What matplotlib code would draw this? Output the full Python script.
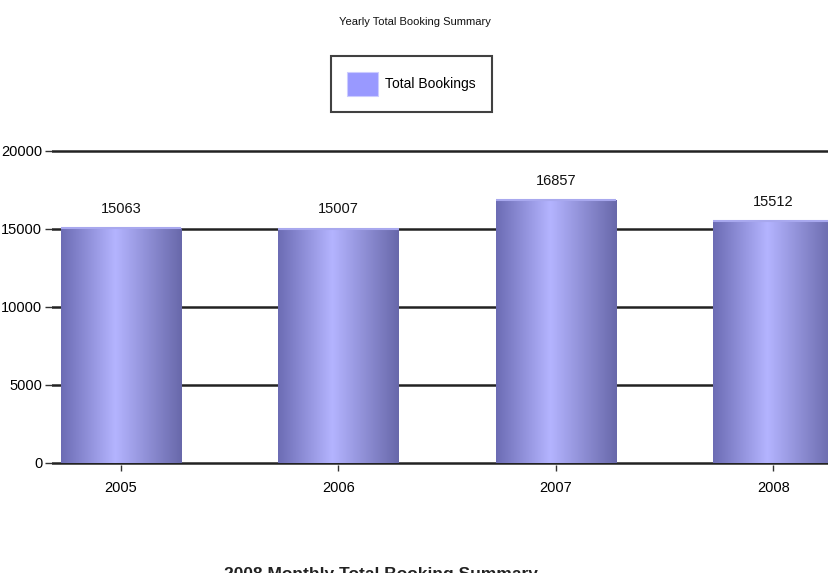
import matplotlib
matplotlib.use("Agg")
import matplotlib.pyplot as plt
import numpy as np
from matplotlib.patches import Patch
from matplotlib.colors import LinearSegmentedColormap

years = ["2005", "2006", "2007", "2008"]
bookings = [15063, 15007, 16857, 15512]
yticks = [0, 5000, 10000, 15000, 20000]
title = "Yearly Total Booking Summary"
series_name = "Total Bookings"
next_title = "2008 Monthly Total Booking Summary"

FONT = ["Liberation Sans Narrow", "Liberation Sans", "DejaVu Sans"]
plt.rcParams["font.family"] = FONT

W, H = 829, 573
fig = plt.figure(figsize=(W / 100, H / 100), dpi=100)

# axes geometry in pixels
x0_px, zero_px, top_px = 52, 463, 151
ppu = (zero_px - top_px) / 20000.0
ylo, yhi = -150, 20150
bot_px = zero_px + (0 - ylo) * ppu
tp_px = top_px - (yhi - 20000) * ppu
cat_px = 217.5
first_px = 121
xlo = -(first_px - x0_px) / cat_px
xhi = 3 - xlo
right_px = first_px + (xhi) * cat_px
ax = fig.add_axes([x0_px / W, 1 - bot_px / H, (right_px - x0_px) / W, (bot_px - tp_px) / H])
ax.set_xlim(xlo, xhi)
ax.set_ylim(ylo, yhi)

x = np.arange(len(years))
bars = ax.bar(x, bookings, width=0.556, color="#9999ff", zorder=3, linewidth=0)

cmap = LinearSegmentedColormap.from_list(
    "barg", [(0.0, "#6c6cb4"), (0.45, "#b4b4ff"), (1.0, "#6868aa")])
grad = np.linspace(0, 1, 256).reshape(1, -1)
for b in bars:
    bx, by = b.get_x(), b.get_y()
    bw, bh = b.get_width(), b.get_height()
    im = ax.imshow(grad, cmap=cmap, aspect="auto", extent=[bx, bx + bw, by, by + bh],
                   zorder=3.5, interpolation="bicubic")
    im.set_clip_path(b)
    ax.plot([bx, bx + bw], [by + bh, by + bh], color="#a8a8ee", lw=1.5, zorder=4,
            solid_capstyle="butt")

for xi, v in zip(x, bookings):
    ax.annotate(str(v), (xi, v), xytext=(0, 9), textcoords="offset points",
                ha="center", va="bottom", fontsize=10.5, color="#111111")

ax.set_yticks(yticks)
ax.set_yticklabels([str(t) for t in yticks], fontsize=10.5)
ax.set_xticks(x)
ax.set_xticklabels(years, fontsize=10.5)
ax.grid(axis="y", color="#222222", linewidth=1.8, zorder=1)
ax.set_axisbelow(True)
for s in ax.spines.values():
    s.set_visible(False)
ax.tick_params(axis="y", length=5, width=1, color="#333333", pad=2)
ax.tick_params(axis="x", length=4, width=1, color="#333333", pad=7)

fig.text(0.5, 1 - 22 / H, title, ha="center", va="center", fontsize=8, color="#111111")

leg = fig.legend(handles=[Patch(facecolor="#9999ff", edgecolor="#ccccff", linewidth=0.8)],
                 labels=[series_name], loc="center",
                 bbox_to_anchor=((335 + 488) / 2 / W, 1 - 84 / H),
                 fontsize=10, frameon=True, fancybox=False, edgecolor="#111111",
                 handlelength=2.2, handleheight=2.3, borderpad=1.15, handletextpad=0.5,
                 borderaxespad=0)
leg.get_frame().set_linewidth(1.5)

fig.text(0.46, 1 - 567 / H, next_title, ha="center", va="top", fontsize=12.5,
         fontweight="bold", color="#222222")

fig.savefig("out.png", dpi=100, facecolor="white")
